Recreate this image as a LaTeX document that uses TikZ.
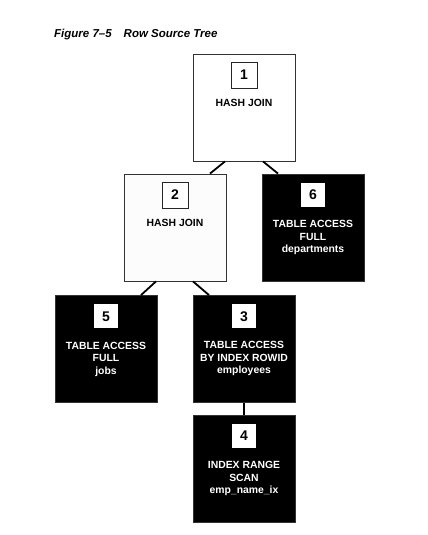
\documentclass[tikz,border=0pt]{standalone}
\usepackage{fontspec}
\setmainfont{Liberation Sans}
\usetikzlibrary{positioning,calc}

\begin{document}
\begin{tikzpicture}[x=1pt,y=-1pt,
	opbox/.style={draw=black!80,line width=0.8pt,minimum width=102pt,minimum height=107pt,inner sep=0pt},
	joinbox/.style={opbox,fill=white},
	accbox/.style={opbox,fill=black},
	numbox/.style={draw=black!85,fill=white,line width=0.8pt,minimum size=26pt,inner sep=0pt,font=\fontsize{14}{14}\selectfont\bfseries},
	numboxd/.style={fill=white,minimum size=24pt,inner sep=0pt,font=\fontsize{14}{14}\selectfont\bfseries},
	oplabel/.style={align=center,inner sep=0pt,font=\fontsize{10.4}{12.5}\selectfont\bfseries},
	link/.style={line width=1.8pt}]
		\useasboundingbox (0,0) rectangle (428,535);
		
		%title
		\node[anchor=base west,inner sep=0pt,font=\fontsize{11.5}{12}\selectfont\bfseries\itshape] (title) at (54,37.5) {Figure 7--5\hspace{12pt}Row Source Tree};
		
		%join steps
		\node[joinbox] (b1) at (244,107.5) {};
		\node[numbox,below=8pt of b1.north] (n1) {1};
		\node[oplabel,below=11pt of n1] (l1) {HASH JOIN};
		
		\node[joinbox,fill=black!1] (b2) at (175,227.5) {};
		\node[numbox,below=8pt of b2.north] (n2) {2};
		\node[oplabel,below=11pt of n2] (l2) {HASH JOIN};
		
		%access steps
		\node[accbox] (b6) at (313,227.5) {};
		\node[numboxd,below=9pt of b6.north] (n6) {6};
		\node[oplabel,text=white,below=13.5pt of n6] (l6) {TABLE ACCESS\\FULL\\departments};
		
		\node[accbox] (b5) at (106,349) {};
		\node[numboxd,below=9pt of b5.north] (n5) {5};
		\node[oplabel,text=white,below=13.5pt of n5] (l5) {TABLE ACCESS\\FULL\\jobs};
		
		\node[accbox] (b3) at (244,349) {};
		\node[numboxd,below=9pt of b3.north] (n3) {3};
		\node[oplabel,text=white,below=13pt of n3] (l3) {TABLE ACCESS\\BY INDEX ROWID\\employees};
		
		\node[accbox] (b4) at (244,468.5) {};
		\node[numboxd,below=9pt of b4.north] (n4) {4};
		\node[oplabel,text=white,below=13.5pt of n4] (l4) {INDEX RANGE\\SCAN\\emp\_name\_ix};
		
		%links
		\draw[link] ($(b1.south)+(-19,0)$) -- ($(b2.north)+(35,0)$);
		\draw[link] ($(b1.south)+(19,0)$) -- ($(b6.north)+(-35,0)$);
		\draw[link] ($(b2.south)+(-19,0)$) -- ($(b5.north)+(35,0)$);
		\draw[link] ($(b2.south)+(18,0)$) -- ($(b3.north)+(-35,0)$);
		\draw[link] (b3.south) -- (b4.north);
		
\end{tikzpicture}
\end{document}
